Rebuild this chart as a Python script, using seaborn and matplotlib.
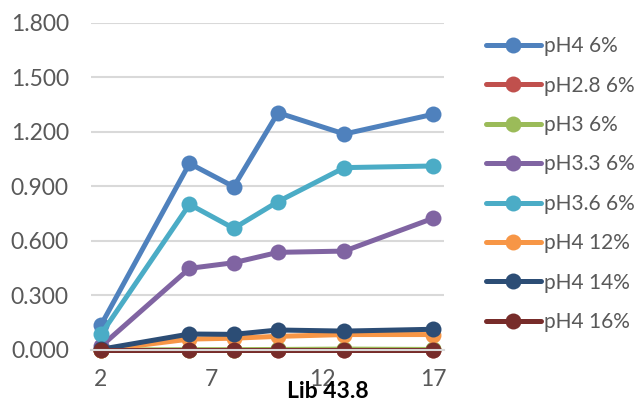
import numpy as np
import pandas as pd
import matplotlib
matplotlib.use("Agg")
import matplotlib.pyplot as plt
import seaborn as sns

# data
days = [2, 6, 8, 10, 13, 17]
series_names = ["pH4 6%", "pH2.8 6%", "pH3 6%", "pH3.3 6%",
                "pH3.6 6%", "pH4 12%", "pH4 14%", "pH4 16%"]
ph4_6 = [0.137, 1.026, 0.898, 1.305, 1.188, 1.296]
ph28_6 = [0.0, 0.0, 0.0, 0.0, 0.0, 0.0]
ph3_6 = [0.0, 0.002, 0.002, 0.003, 0.005, 0.003]
ph33_6 = [0.020, 0.449, 0.480, 0.537, 0.544, 0.724]
ph36_6 = [0.086, 0.801, 0.669, 0.816, 1.003, 1.012]
ph4_12 = [0.0, 0.060, 0.065, 0.075, 0.085, 0.085]
ph4_14 = [0.004, 0.088, 0.086, 0.110, 0.104, 0.114]
ph4_16 = [0.0, 0.0, 0.0, 0.0, 0.0, 0.0]
all_values = [ph4_6, ph28_6, ph3_6, ph33_6, ph36_6, ph4_12, ph4_14, ph4_16]
colors = ["#4F81BD", "#C0504D", "#9BBB59", "#8064A2",
          "#4BACC6", "#F79646", "#2C4D75", "#772C2A"]
x_ticks = [2, 7, 12, 17]
y_ticks = [0.0, 0.3, 0.6, 0.9, 1.2, 1.5, 1.8]

rows = []
for name, vals in zip(series_names, all_values):
    for d, v in zip(days, vals):
        rows.append({"day": d, "value": v, "series": name})
df = pd.DataFrame(rows)

sns.set_style("white")
plt.rcParams['font.family'] = ['Lato', 'DejaVu Sans']

fig = plt.figure(figsize=(6.38, 4.03), dpi=100)
ax = fig.add_axes([91 / 638, 1 - 350 / 403, (444 - 91) / 638, (350 - 22.7) / 403])

sns.lineplot(data=df, x="day", y="value", hue="series", hue_order=series_names,
             palette=colors, marker="o", markersize=11.5, markeredgewidth=0,
             linewidth=3.6, ax=ax, clip_on=False, legend=True)

ax.set_xlim(1.55, 17.5)
ax.set_ylim(0, 1.8)
ax.set_yticks(y_ticks)
ax.set_yticklabels(["%.3f" % t for t in y_ticks])
ax.set_xticks(x_ticks)
ax.set_xticks([1.55, 6.55, 11.55, 16.55], minor=True)
ax.tick_params(axis="both", which="major", length=0, labelsize=16.5,
               labelcolor="#595959")
ax.tick_params(axis="y", which="major", pad=16)
ax.tick_params(axis="x", which="major", pad=14)
ax.tick_params(axis="x", which="minor", length=5, width=1.2, color="#D9D9D9",
               direction="out")
ax.grid(axis="y", color="#D9D9D9", linewidth=1.5)
ax.set_axisbelow(True)
for s in ["top", "right", "left"]:
    ax.spines[s].set_visible(False)
ax.spines["bottom"].set_color("#D9D9D9")
ax.spines["bottom"].set_linewidth(1.5)
ax.set_xlabel("")
ax.set_ylabel("")

handles, labels = ax.get_legend_handles_labels()
ax.legend(handles, labels, loc="upper left", bbox_to_anchor=(478 / 638, 1 - 28 / 403),
          bbox_transform=fig.transFigure, frameon=False, fontsize=15,
          labelcolor="#595959", handlelength=2.6, handletextpad=0.15,
          labelspacing=0.93, borderaxespad=0)

# axis title sits over the "12" label in the original, kept that way
fig.text(328 / 638, 1 - 392 / 403, "Lib 43.8", ha="center", va="center",
         fontsize=16.5, fontweight="bold", color="black")

fig.savefig("out.png", dpi=100)
